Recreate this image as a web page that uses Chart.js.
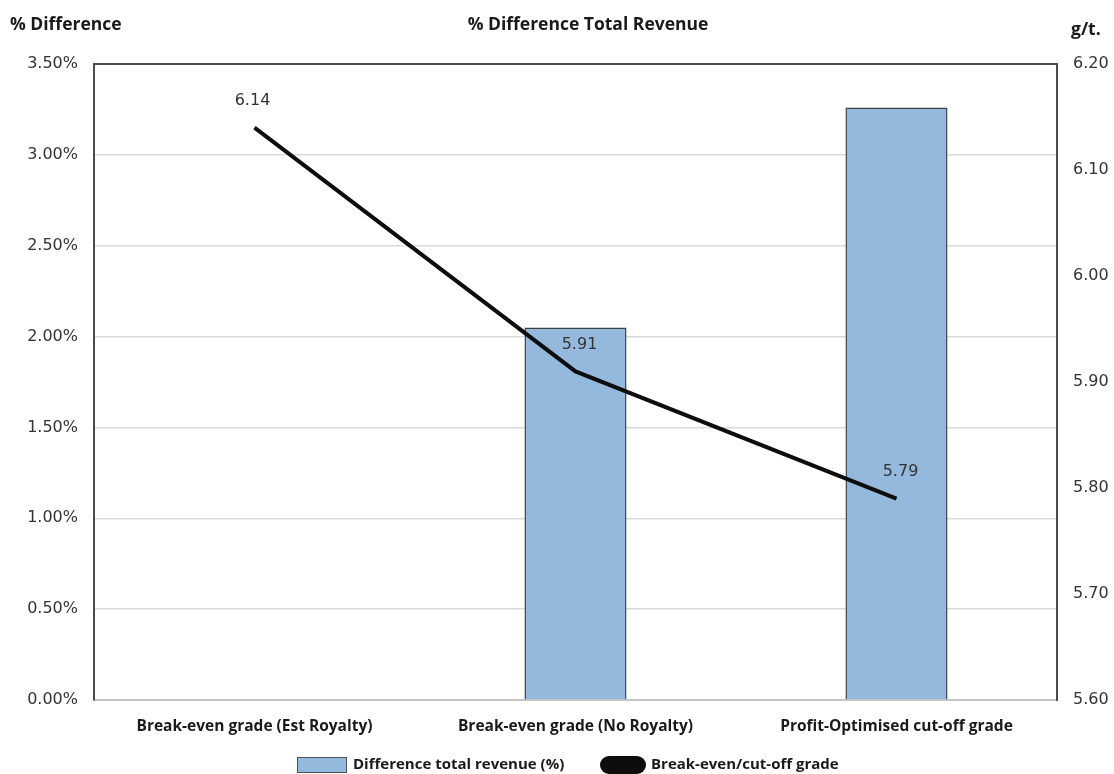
<!DOCTYPE html>
<html>
<head>
<meta charset="utf-8">
<script src="https://cdn.jsdelivr.net/npm/chart.js@4.4.1/dist/chart.umd.min.js"></script>
<style>
  html, body { margin: 0; padding: 0; background: #ffffff; }
  #wrap { width: 1114px; height: 774px; position: relative; }
</style>
</head>
<body>
<div id="wrap"><canvas id="chart" width="1114" height="774"></canvas></div>
<script>
// Grade scenarios compared
const categories = [
  'Break-even grade (Est Royalty)',
  'Break-even grade (No Royalty)',
  'Profit-Optimised cut-off grade'
];
// % difference in total revenue (left axis)
const revenueDiff = [0, 2.05, 3.26];
// break-even / cut-off grade in g/t (right axis)
const cutoffGrade = [6.14, 5.91, 5.79];

const headerTitle = '% Difference Total Revenue';
const leftAxisTitle = '% Difference';
const rightAxisTitle = 'g/t.';
const barLabel = 'Difference total revenue (%)';
const lineLabel = 'Break-even/cut-off grade';

const TICK_FONT = { family: 'DejaVu Sans', size: 16 };
const BOLD_FAMILY = '"Open Sans", sans-serif';

// Plot frame, header texts, value labels and legend
const decorations = {
  id: 'decorations',
  afterDraw(chart) {
    const { ctx, chartArea: a } = chart;
    ctx.save();

    // top edge of the plot frame
    ctx.strokeStyle = '#4d4d4d';
    ctx.lineWidth = 2;
    ctx.beginPath();
    ctx.moveTo(a.left - 1, a.top);
    ctx.lineTo(a.right + 1, a.top);
    ctx.stroke();

    // header texts
    ctx.fillStyle = '#1a1a1a';
    ctx.font = 'bold 17.5px ' + BOLD_FAMILY;
    ctx.textBaseline = 'middle';
    ctx.textAlign = 'left';
    ctx.fillText(leftAxisTitle, 10, 25);
    ctx.textAlign = 'center';
    ctx.fillText(headerTitle, 588, 25);
    ctx.textAlign = 'left';
    ctx.fillText(rightAxisTitle, 1071, 30);

    // grade value labels above the line
    const meta = chart.getDatasetMeta(1);
    ctx.font = '16px "DejaVu Sans"';
    ctx.fillStyle = '#333333';
    ctx.textAlign = 'center';
    meta.data.forEach((pt, i) => {
      const dx = i === 0 ? -2 : 4;
      ctx.fillText(cutoffGrade[i].toFixed(2), pt.x + dx, pt.y - 27);
    });

    // legend
    const ly = 765;
    ctx.font = 'bold 15px ' + BOLD_FAMILY;
    ctx.textAlign = 'left';
    ctx.fillStyle = chart.data.datasets[0].backgroundColor;
    ctx.fillRect(297, ly - 8, 50, 16);
    ctx.strokeStyle = '#4d5257';
    ctx.lineWidth = 1;
    ctx.strokeRect(297.5, ly - 7.5, 49, 15);
    ctx.fillStyle = '#1a1a1a';
    ctx.fillText(chart.data.datasets[0].label, 353, ly);

    ctx.fillStyle = chart.data.datasets[1].borderColor;
    ctx.beginPath();
    ctx.roundRect(600, ly - 9, 46, 18, 9);
    ctx.fill();
    ctx.fillStyle = '#1a1a1a';
    ctx.fillText(chart.data.datasets[1].label, 651, ly);

    ctx.restore();
  }
};

new Chart(document.getElementById('chart'), {
  data: {
    labels: categories,
    datasets: [
      {
        type: 'bar',
        label: barLabel,
        data: revenueDiff,
        yAxisID: 'y',
        backgroundColor: '#95b9dc',
        borderColor: '#3d4247',
        borderWidth: 1.5,
        categoryPercentage: 1,
        barPercentage: 0.318,
        order: 2
      },
      {
        type: 'line',
        label: lineLabel,
        data: cutoffGrade,
        yAxisID: 'y1',
        borderColor: '#0d0d0d',
        backgroundColor: '#0d0d0d',
        borderWidth: 4,
        pointRadius: 0,
        tension: 0,
        order: 1
      }
    ]
  },
  options: {
    responsive: false,
    animation: false,
    layout: { padding: { top: 64, bottom: 0, left: 0, right: 0 } },
    plugins: {
      legend: { display: false },
      title: { display: false },
      tooltip: { enabled: false }
    },
    scales: {
      x: {
        grid: { display: false },
        border: { color: '#c4c4c4', width: 2 },
        ticks: {
          color: '#1a1a1a',
          font: { family: BOLD_FAMILY, size: 15.5, weight: 'bold' },
          padding: 9,
          maxRotation: 0
        },
        afterFit(scale) { scale.height = 74; }
      },
      y: {
        position: 'left',
        min: 0,
        max: 3.5,
        grid: { color: '#dadada', lineWidth: 1.5, drawTicks: false },
        border: { color: '#4d4d4d', width: 2 },
        ticks: {
          stepSize: 0.5,
          color: '#333333',
          font: TICK_FONT,
          padding: 16,
          callback: v => v.toFixed(2) + '%'
        },
        afterFit(scale) { scale.width = 94; }
      },
      y1: {
        position: 'right',
        min: 5.6,
        max: 6.2,
        grid: { display: false, drawTicks: false },
        border: { color: '#4d4d4d', width: 2 },
        ticks: {
          stepSize: 0.1,
          color: '#333333',
          font: TICK_FONT,
          padding: 16,
          callback: v => v.toFixed(2)
        },
        afterFit(scale) { scale.width = 57; }
      }
    }
  },
  plugins: [decorations]
});
</script>
</body>
</html>
